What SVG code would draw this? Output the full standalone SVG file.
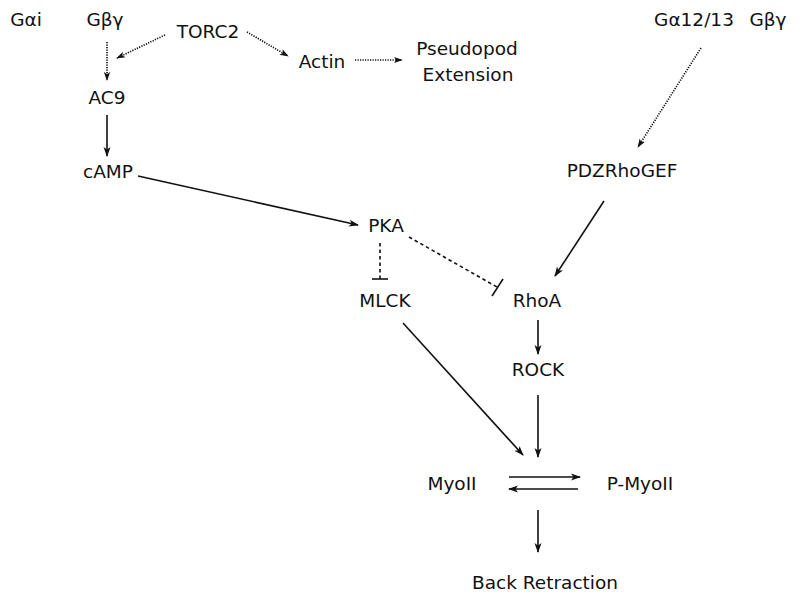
<svg xmlns="http://www.w3.org/2000/svg" width="800" height="599" viewBox="0 0 800 599">
<style>
text{font-family:"DejaVu Sans","Liberation Sans",sans-serif;font-size:18.5px;fill:#111;text-anchor:middle}
.s{stroke:#111;stroke-width:1.6;fill:none}
.d{stroke:#111;stroke-width:1.7;fill:none;stroke-dasharray:1.2 1.3}
.k{stroke:#111;stroke-width:1.6;fill:none;stroke-dasharray:3.5 3}
</style>
<defs>
<marker id="a" viewBox="0 0 10 10" refX="9" refY="5" markerWidth="10" markerHeight="10" markerUnits="userSpaceOnUse" orient="auto">
<path d="M0,1.5 L10,5 L0,8.5 L2.5,5 Z" fill="#111"/>
</marker>
<marker id="b" viewBox="0 0 10 10" refX="9" refY="5" markerWidth="9" markerHeight="9" markerUnits="userSpaceOnUse" orient="auto">
<path d="M0,1.5 L10,5 L0,8.5 L2.5,5 Z" fill="#111"/>
</marker>
</defs>
<rect width="800" height="599" fill="#fff"/>
<g id="Gai"><text x="26" y="26">Gαi</text></g>
<g id="Gbg1"><text x="105" y="26">Gβγ</text></g>
<g id="TORC2"><text x="208" y="38">TORC2</text></g>
<g id="Actin"><text x="322" y="68">Actin</text></g>
<g id="Pseudopod"><text x="467" y="55">Pseudopod</text><text x="468" y="81">Extension</text></g>
<g id="Ga1213"><text x="694" y="26">Gα12/13</text></g>
<g id="Gbg2"><text x="768" y="26">Gβγ</text></g>
<g id="AC9"><text x="107" y="104">AC9</text></g>
<g id="cAMP"><text x="108" y="178">cAMP</text></g>
<g id="PDZRhoGEF"><text x="622" y="177">PDZRhoGEF</text></g>
<g id="PKA"><text x="386" y="232">PKA</text></g>
<g id="MLCK"><text x="385" y="307">MLCK</text></g>
<g id="RhoA"><text x="537" y="307">RhoA</text></g>
<g id="ROCK"><text x="538" y="376">ROCK</text></g>
<g id="MyoII"><text x="452" y="490">MyoII</text></g>
<g id="PMyoII"><text x="640" y="490">P-MyoII</text></g>
<g id="BackRetraction"><text x="545" y="589">Back Retraction</text></g>
<g id="connectors">
<line class="d" x1="107" y1="42" x2="107" y2="80" marker-end="url(#b)"/>
<line class="d" x1="165" y1="35" x2="117" y2="58" marker-end="url(#b)"/>
<line class="d" x1="247" y1="32" x2="288" y2="56" marker-end="url(#b)"/>
<line class="d" x1="355" y1="60" x2="402" y2="60" marker-end="url(#b)"/>
<line class="d" x1="701" y1="48" x2="638" y2="147" marker-end="url(#b)"/>
<line class="s" x1="107" y1="115" x2="107" y2="156" marker-end="url(#a)"/>
<line class="s" x1="138" y1="176" x2="358" y2="225" marker-end="url(#a)"/>
<line class="k" x1="380" y1="243" x2="380" y2="279"/>
<line class="s" x1="372" y1="279" x2="388" y2="279"/>
<line class="k" x1="409" y1="237" x2="497" y2="287"/>
<line class="s" x1="492" y1="296" x2="503" y2="279"/>
<line class="s" x1="604" y1="201" x2="555" y2="276" marker-end="url(#a)"/>
<line class="s" x1="538" y1="320" x2="538" y2="354" marker-end="url(#a)"/>
<line class="s" x1="403" y1="323" x2="523" y2="455" marker-end="url(#a)"/>
<line class="s" x1="538" y1="395" x2="538" y2="457" marker-end="url(#a)"/>
<line class="s" x1="509" y1="477" x2="580" y2="477" marker-end="url(#a)"/>
<line class="s" x1="578" y1="489" x2="509" y2="489" marker-end="url(#a)"/>
<line class="s" x1="538" y1="510" x2="538" y2="552" marker-end="url(#a)"/>
</g>
</svg>
